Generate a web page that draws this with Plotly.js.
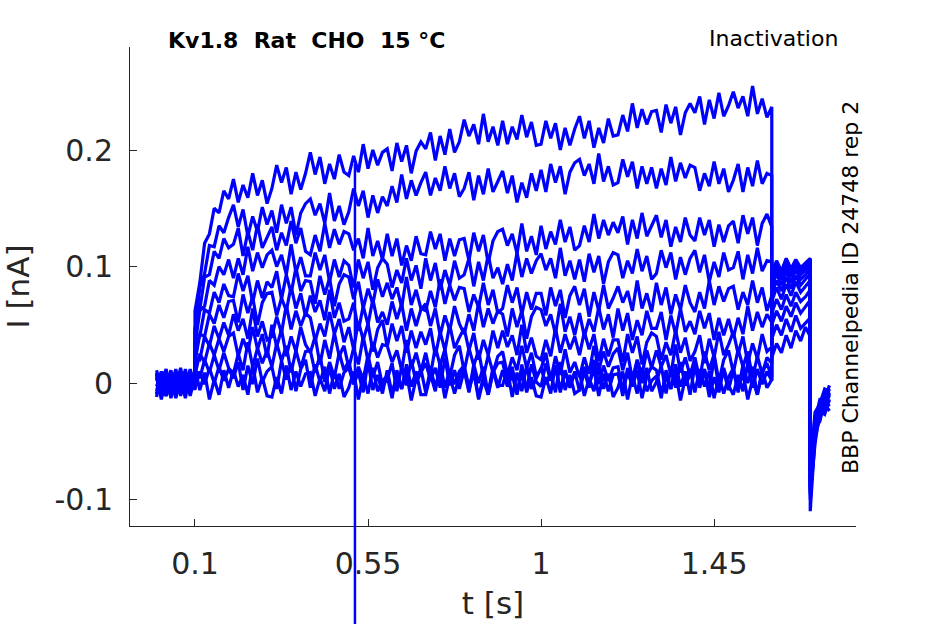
<!DOCTYPE html>
<html>
<head>
<meta charset="utf-8">
<script src="https://cdn.plot.ly/plotly-3.0.1.min.js"></script>
<style>html,body{margin:0;padding:0;background:#fff}</style>
</head>
<body>
<div id="chart" style="width:945px;height:624px"></div>
<script>
// sample times in ms; step edges at 100, 1600 and 1700 ms appear twice
const tMs = [
  0,12.5,25,37.5,50,62.5,75,87.5,100,
  100,112.5,125,137.5,150,162.5,175,187.5,
  200,212.5,225,237.5,250,262.5,275,287.5,
  300,312.5,325,337.5,350,362.5,375,387.5,
  400,412.5,425,437.5,450,462.5,475,487.5,
  500,512.5,525,537.5,550,562.5,575,587.5,
  600,612.5,625,637.5,650,662.5,675,687.5,
  700,712.5,725,737.5,750,762.5,775,787.5,
  800,812.5,825,837.5,850,862.5,875,887.5,
  900,912.5,925,937.5,950,962.5,975,987.5,
  1000,1012.5,1025,1037.5,1050,1062.5,1075,1087.5,
  1100,1112.5,1125,1137.5,1150,1162.5,1175,1187.5,
  1200,1212.5,1225,1237.5,1250,1262.5,1275,1287.5,
  1300,1312.5,1325,1337.5,1350,1362.5,1375,1387.5,
  1400,1412.5,1425,1437.5,1450,1462.5,1475,1487.5,
  1500,1512.5,1525,1537.5,1550,1562.5,1575,1587.5,
  1600,
  1600,1612.5,1625,1637.5,1650,1662.5,1675,1687.5,1700,
  1700,1712.5,1725,1737.5,1750
];

// currents in pA, one sweep per prepulse (top sweep first)
const sweep1 = [
  8,-9,5,-12,10,-4,7,-11,6,
  62,86,120,128,150,146,165,158,
  175,155,170,159,180,161,174,154,
  167,187,172,185,162,181,166,180,
  198,179,194,171,188,175,196,181,
  178,195,181,205,184,200,187,198,
  201,182,206,190,204,180,199,207,
  201,215,191,212,196,218,198,207,
  226,212,222,205,231,207,220,204,
  225,205,220,209,230,211,224,204,
  205,225,210,223,200,219,204,218,
  229,210,225,202,219,206,227,212,
  213,230,216,240,219,235,222,233,
  234,215,239,223,237,213,232,240,
  232,246,222,243,227,249,229,238,
  250,236,246,229,255,231,244,228,
  237,
  22,34,26,41,30,45,36,48,40,
  -110,-46,-30,-18,-24
];
const sweep2 = [
  -10,6,-3,11,-8,4,-13,9,-2,
  45,82,94,118,117,135,129,142,
  153,134,149,126,143,130,151,136,
  148,129,153,137,151,127,146,154,
  158,144,154,137,163,139,152,136,
  147,167,152,165,142,161,146,160,
  152,169,155,179,158,174,161,172,
  181,161,176,165,186,167,180,160,
  167,181,157,178,162,184,164,173,
  182,163,178,155,172,159,180,165,
  183,164,188,172,186,162,181,189,
  192,178,188,171,197,173,186,170,
  172,192,177,190,167,186,171,185,
  167,184,170,194,173,189,176,187,
  185,165,180,169,190,171,184,164,
  174,188,164,185,169,191,171,180,
  178,
  38,50,41,55,44,58,47,52,56,
  -96,-52,-24,-27,-14
];
const sweep3 = [
  5,-12,9,-4,12,-7,3,-9,11,
  47,63,91,93,113,107,124,116,
  119,133,109,130,114,136,116,125,
  134,114,129,118,139,120,133,113,
  110,127,113,137,116,132,119,130,
  128,114,124,107,133,109,122,106,
  128,109,124,101,118,105,126,111,
  110,130,115,128,105,124,109,123,
  124,105,129,113,127,103,122,130,
  132,118,128,111,137,113,126,110,
  135,115,130,119,140,121,134,114,
  118,135,121,145,124,140,127,138,
  129,143,119,140,124,146,126,135,
  144,125,140,117,134,121,142,127,
  122,142,127,140,117,136,121,135,
  139,120,144,128,142,118,137,145,
  134,
  50,62,53,66,57,69,60,65,71,
  -90,-38,-33,-15,-20
];
const sweep4 = [
  -7,10,-11,4,-5,13,-8,6,-3,
  32,62,66,88,84,100,93,106,
  90,107,93,117,96,112,99,110,
  114,100,110,93,119,95,108,92,
  92,112,97,110,87,106,91,105,
  101,82,106,90,104,80,99,107,
  102,82,97,86,107,88,101,81,
  107,88,103,80,97,84,105,90,
  93,107,83,104,88,110,90,99,
  85,102,88,112,91,107,94,105,
  111,97,107,90,116,92,105,89,
  106,87,111,95,109,85,104,112,
  110,90,105,94,115,96,109,89,
  94,114,99,112,89,108,93,107,
  114,95,110,87,104,91,112,97,
  99,113,89,110,94,116,96,105,
  104,
  60,72,63,76,66,78,70,74,80,
  -100,-44,-26,-22,-10
];
const sweep5 = [
  11,-5,7,-13,3,-8,10,-2,5,
  34,40,63,60,78,69,85,75,
  74,94,79,92,69,88,73,87,
  82,96,72,93,77,99,79,88,
  87,68,92,76,90,66,85,93,
  91,72,87,64,81,68,89,74,
  86,72,82,65,91,67,80,64,
  62,79,65,89,68,84,71,82,
  81,61,76,65,86,67,80,60,
  64,84,69,82,59,78,63,77,
  77,58,82,66,80,56,75,83,
  67,81,57,78,62,84,64,73,
  83,69,79,62,88,64,77,61,
  86,67,82,59,76,63,84,69,
  61,78,64,88,67,83,70,81,
  83,63,78,67,88,69,82,62,
  75,
  70,82,72,85,75,87,78,83,88,
  -94,-35,-29,-12,-17
];
const sweep6 = [
  -3,9,-10,6,-12,2,8,-6,4,
  18,42,40,59,51,67,56,70,
  71,52,76,60,74,50,69,77,
  78,58,73,62,83,64,77,57,
  75,61,71,54,80,56,69,53,
  55,69,45,66,50,72,52,61,
  50,70,55,68,45,64,49,63,
  68,49,64,41,58,45,66,51,
  42,59,45,69,48,64,51,62,
  59,40,64,48,62,38,57,65,
  63,49,59,42,68,44,57,41,
  60,40,55,44,65,46,59,39,
  64,45,60,37,54,41,62,47,
  47,61,37,58,42,64,44,53,
  42,62,47,60,37,56,41,55,
  39,56,42,66,45,61,48,59,
  52,
  76,88,79,91,81,92,84,89,94,
  -88,-41,-20,-19,-8
];
const sweep7 = [
  7,-14,4,-6,9,-3,-10,12,-5,
  22,20,40,32,49,38,52,41,
  59,45,55,38,64,40,53,37,
  40,57,43,67,46,62,49,60,
  56,36,51,40,61,42,55,35,
  48,29,53,37,51,27,46,54,
  31,51,36,49,26,45,30,44,
  33,47,23,44,28,50,30,39,
  47,28,43,20,37,24,45,30,
  45,31,41,24,50,26,39,23,
  20,37,23,47,26,42,29,40,
  24,44,29,42,19,38,23,37,
  37,18,42,26,40,16,35,43,
  40,20,35,24,45,26,39,19,
  27,41,17,38,22,44,24,33,
  44,25,40,17,34,21,42,27,
  31,
  82,94,84,96,86,97,89,93,99,
  -92,-30,-25,-10,-13
];
const sweep8 = [
  -9,3,12,-7,5,-11,2,10,-4,
  7,25,18,34,24,38,27,40,
  43,23,38,27,48,29,42,22,
  50,31,46,23,40,27,48,33,
  26,40,16,37,21,43,23,32,
  13,30,16,40,19,35,22,33,
  32,18,28,11,37,13,26,10,
  26,7,31,15,29,5,24,32,
  10,30,15,28,5,24,9,23,
  27,7,22,11,32,13,26,6,
  12,26,2,23,7,29,9,18,
  5,22,8,32,11,27,14,25,
  30,11,26,3,20,7,28,13,
  28,14,24,7,33,9,22,6,
  22,3,27,11,25,1,20,28,
  9,29,14,27,4,23,8,22,
  17,
  86,98,89,100,91,101,93,97,103,
  -85,-37,-17,-16,-5
];
const sweep9 = [
  4,-8,-2,9,-13,7,-5,11,-6,
  12,4,20,9,24,11,26,13,
  8,25,11,35,14,30,17,28,
  14,34,19,32,9,28,13,27,
  28,9,24,1,18,5,26,11,
  19,-1,14,3,24,5,18,-2,
  3,17,-7,14,-2,20,0,9,
  17,3,13,-4,22,-2,11,-5,
  11,-8,16,0,14,-10,9,17,
  18,-1,14,-9,8,-5,16,1,
  -3,17,2,15,-8,11,-4,10,
  -7,10,-4,20,-1,15,2,13,
  14,-6,9,-2,19,0,13,-7,
  1,15,-9,12,-4,18,-2,7,
  16,2,12,-5,21,-3,10,-6,
  11,-8,16,0,14,-10,9,17,
  5,
  90,101,92,103,94,104,96,100,105,
  -80,-28,-22,-8,-11
];
const sweep10 = [
  -12,7,3,-9,8,-5,12,-7,1,
  -4,10,-1,13,0,14,2,12,
  4,18,-6,15,-1,21,1,10,
  14,-5,19,3,17,-7,12,20,
  -4,16,1,14,-9,10,-5,9,
  13,-1,9,-8,18,-6,7,-9,
  11,-9,6,-5,16,-3,10,-10,
  -10,7,-7,17,-4,12,-1,10,
  15,-4,11,-12,5,-8,13,-2,
  -2,12,-12,9,-7,15,-5,4,
  13,-1,9,-8,18,-6,7,-9,
  -6,14,-1,12,-11,8,-7,7,
  8,-11,13,-3,11,-13,6,14,
  11,-9,6,-5,16,-3,10,-10,
  15,-4,11,-12,5,-8,13,-2,
  -10,7,-7,17,-4,12,-1,10,
  2,
  92,104,95,106,96,105,98,102,106,
  -76,-33,-14,-13,-2
];
const sweep11 = [
  9,-4,-11,5,-7,10,-2,-9,8,
  13,-6,9,-14,3,-10,11,-4,
  11,-3,7,-10,16,-8,5,-11,
  -12,5,-9,15,-6,10,-3,8,
  9,-11,4,-7,14,-5,8,-12,
  -4,10,-14,7,-9,13,-7,2,
  6,-13,11,-5,9,-15,4,12,
  -8,12,-3,10,-13,6,-9,5,
  13,-6,9,-14,3,-10,11,-4,
  11,-3,7,-10,16,-8,5,-11,
  -12,5,-9,15,-6,10,-3,8,
  9,-11,4,-7,14,-5,8,-12,
  -4,10,-14,7,-9,13,-7,2,
  6,-13,11,-5,9,-15,4,12,
  -8,12,-3,10,-13,6,-9,5,
  13,-6,9,-14,3,-10,11,-4,
  3,
  94,105,96,107,98,106,99,103,107,
  -72,-25,-18,-5,-7
];

// single-sample artifact in the top sweep, runs off the bottom of the axes
const spikeMs = [516, 516];
const spikePA = [188, -260];

const sweeps = [sweep1, sweep2, sweep3, sweep4, sweep5, sweep6,
  sweep7, sweep8, sweep9, sweep10, sweep11];

const FONT = 'DejaVu Sans';
const INK = '#262626';

const traces = sweeps.map(s => ({
  type: 'scatter', mode: 'lines',
  x: tMs.map(v => v / 1000), y: s.map(v => v / 1000),
  line: {color: '#0000ff', width: 3.2},
  xaxis: 'x', yaxis: 'y', hoverinfo: 'skip',
}));
traces.push({
  type: 'scatter', mode: 'lines',
  x: spikeMs.map(v => v / 1000), y: spikePA.map(v => v / 1000),
  line: {color: '#0000ff', width: 2.5},
  xaxis: 'x', yaxis: 'y2', hoverinfo: 'skip',
});

const axisBase = {
  showgrid: false, zeroline: false, showline: true,
  linecolor: INK, linewidth: 1,
  ticks: 'inside', ticklen: 7, tickcolor: INK,
  tickfont: {family: FONT, size: 30, color: INK},
};

const layout = {
  width: 945, height: 624,
  margin: {l: 130, r: 89, t: 47, b: 0},
  paper_bgcolor: '#fff', plot_bgcolor: 'rgba(0,0,0,0)',
  showlegend: false,
  font: {family: FONT, color: INK},
  xaxis: {...axisBase, anchor: 'y', range: [-0.069, 1.819],
    tickvals: [0.1, 0.55, 1, 1.45], ticktext: ['0.1', '0.55', '1', '1.45'],
    ticklabelstandoff: 11,
    title: {text: 't [s]', font: {family: FONT, size: 31, color: INK}, standoff: 12}},
  yaxis: {...axisBase, anchor: 'x', domain: [0.1698, 1], range: [-0.1227, 0.2884],
    tickvals: [-0.1, 0, 0.1, 0.2], ticktext: ['-0.1', '0', '0.1', '0.2'],
    ticklabelstandoff: 10,
    title: {text: 'I [nA]', font: {family: FONT, size: 31, color: INK}, standoff: 18}},
  yaxis2: {anchor: 'x', domain: [0, 1], range: [-0.2069, 0.2884], visible: false,
    showgrid: false, zeroline: false},
  annotations: [
    {text: '<b>Kv1.8\u00a0\u00a0Rat\u00a0\u00a0CHO\u00a0\u00a015\u00a0°C</b>', xref: 'paper', yref: 'paper',
      x: 0.2438, y: 1.0121, xanchor: 'center', yanchor: 'middle', showarrow: false,
      font: {family: FONT, size: 22, color: '#000'}},
    {text: 'Inactivation', xref: 'paper', yref: 'paper',
      x: 0.8857, y: 1.0139, xanchor: 'center', yanchor: 'middle', showarrow: false,
      font: {family: FONT, size: 22, color: '#000'}},
    {text: 'BBP Channelpedia ID 24748 rep 2', xref: 'paper', yref: 'paper',
      x: 0.9917, y: 0.584, xanchor: 'center', yanchor: 'middle', showarrow: false,
      textangle: -90, font: {family: FONT, size: 22, color: '#000'}},
  ],
};

Plotly.newPlot('chart', traces, layout, {displayModeBar: false, staticPlot: true});
</script>
</body>
</html>
